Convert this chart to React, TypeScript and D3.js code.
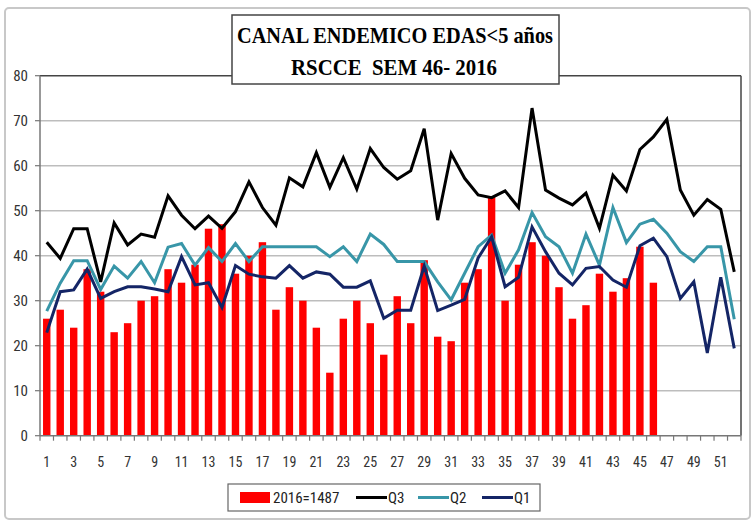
import React from 'react';
import * as d3 from 'd3';

// weeks 1..52
const weeks: number[] = d3.range(1, 53);

// casos 2016 (hasta SEM 46)
const cases2016: number[] = [
  26, 28, 24, 37, 32, 23, 25, 30, 31, 37,
  34, 38, 46, 47, 36, 40, 43, 28, 33, 30,
  24, 14, 26, 30, 25, 18, 31, 25, 39, 22,
  21, 34, 37, 53, 30, 38, 43, 40, 33, 26,
  29, 36, 32, 35, 42, 34,
];

const q3: number[] = [
  43, 39.4, 46, 46, 34.2, 47.3, 42.4, 44.8, 44.1, 53.3,
  49, 46, 48.8, 46.1, 49.8, 56.4, 50.7, 46.8, 57.3, 55.3,
  62.9, 55.2, 61.8, 54.8, 63.8, 59.6, 57, 58.9, 68.2, 47.9,
  62.7, 57.2, 53.5, 52.9, 54.4, 50.7, 72.8, 54.6, 52.8, 51.3,
  53.9, 46.1, 57.9, 54.4, 63.6, 66.4, 70.3, 54.6, 49, 52.5,
  50.3, 36.4,
];

const q2: number[] = [
  27.7, 33.9, 38.9, 38.9, 32.5, 37.7, 35, 38.7, 34, 41.9,
  42.7, 37.9, 41.8, 38.7, 42.7, 38.7, 42, 42, 42, 42,
  42, 39.8, 42, 38.7, 44.8, 42.5, 38.7, 38.7, 38.7, 34.2,
  30.2, 36.1, 42, 44.6, 36.1, 41.3, 49.6, 44.2, 42, 36.1,
  44.8, 37.9, 50.7, 42.9, 47, 48.1, 45, 40.9, 38.7, 42,
  42, 25.9,
];

const q1: number[] = [
  22.9, 32, 32.4, 37, 30.5, 32, 33.1, 33.1, 32.6, 32,
  39.8, 33.5, 34, 28.5, 37.8, 35.9, 35.3, 35, 37.8, 35,
  36.4, 35.9, 33, 33, 34.4, 26.1, 27.9, 27.9, 37.7, 27.8,
  29, 30.3, 39.5, 44.2, 33.1, 35.2, 46.4, 40.9, 36.1, 33.5,
  37.2, 37.6, 34.6, 33, 42.2, 43.9, 39.8, 30.5, 34.2, 18.4,
  35.2, 19.4,
];

const yTicks: number[] = [0, 10, 20, 30, 40, 50, 60, 70, 80];

const W = 754;
const H = 524;
const left = 40;
const right = 741;
const top = 75.7;
const bottom = 435.7;

const axisFont = '"Liberation Sans Narrow", "Roboto Condensed", Arial, sans-serif';

const App = () => {
  const x = d3.scaleBand<number>().domain(weeks).range([left, right]).paddingInner(0.45).paddingOuter(0.225);
  const xLine = (w: number) => (x(w) as number) + x.bandwidth() / 2;
  const y = d3.scaleLinear().domain([0, 80]).range([bottom, top]);
  const step = (right - left) / weeks.length;

  const line = d3.line<number>()
    .x((_, i) => xLine(weeks[i]))
    .y(d => y(d));

  const series = [
    { name: 'Q3', data: q3, color: '#000000' },
    { name: 'Q2', data: q2, color: '#3896A8' },
    { name: 'Q1', data: q1, color: '#142566' },
  ];

  return (
    <svg width={W} height={H} style={{ position: 'absolute', left: 0, top: 0, background: '#fff' }}>
      <rect x={5} y={8} width={745} height={511} rx={4} fill="#fff" stroke="#c8c8c8" strokeWidth={2} />

      {/* grid */}
      {yTicks.filter(t => t > 0 && t < 80).map(t => (
        <line key={t} x1={left} x2={right} y1={y(t)} y2={y(t)} stroke="#bdbdbd" strokeWidth={1.5} />
      ))}

      {/* bars */}
      {cases2016.map((v, i) => (
        <rect key={i} x={x(weeks[i])} y={y(v)} width={x.bandwidth()} height={bottom - y(v)} fill="#ff0000" />
      ))}

      {/* lines */}
      {series.map(s => (
        <path key={s.name} d={line(s.data) || ''} fill="none" stroke={s.color} strokeWidth={3} strokeLinejoin="miter" />
      ))}

      {/* plot frame */}
      <line x1={left} x2={right} y1={top} y2={top} stroke="#444" strokeWidth={1.5} />
      <line x1={right} x2={right} y1={top} y2={bottom} stroke="#444" strokeWidth={1.5} />
      <line x1={left} x2={left} y1={top} y2={bottom} stroke="#777" strokeWidth={1.5} />
      <line x1={left} x2={right} y1={bottom} y2={bottom} stroke="#777" strokeWidth={1.5} />

      {/* y axis */}
      {yTicks.map(t => (
        <g key={t}>
          <line x1={left - 5} x2={left} y1={y(t)} y2={y(t)} stroke="#777" strokeWidth={1.2} />
          <text x={28} y={y(t) + 5} textAnchor="end" fontFamily={axisFont} fontSize={15} fill="#333">{t}</text>
        </g>
      ))}

      {/* x axis */}
      {d3.range(weeks.length + 1).map(i => (
        <line key={i} x1={left + i * step} x2={left + i * step} y1={bottom} y2={bottom + 5} stroke="#777" strokeWidth={1.2} />
      ))}
      {weeks.filter(w => w % 2 === 1).map(w => (
        <text key={w} x={xLine(w)} y={467} textAnchor="middle" fontFamily={axisFont} fontSize={14} fill="#333">{w}</text>
      ))}

      {/* title */}
      <rect x={232} y={15} width={327} height={69} fill="#fff" stroke="#444" strokeWidth={1.5} />
      <text x={395} y={43} textAnchor="middle" fontFamily='"Liberation Serif", serif' fontWeight="bold" fontSize={24}
        textLength={316} lengthAdjust="spacingAndGlyphs">CANAL ENDEMICO EDAS&lt;5 años</text>
      <text x={394} y={75} textAnchor="middle" fontFamily='"Liberation Serif", serif' fontWeight="bold" fontSize={24}
        textLength={206} lengthAdjust="spacingAndGlyphs" style={{ whiteSpace: 'pre' }}>RSCCE  SEM 46- 2016</text>

      {/* legend */}
      <rect x={228} y={484} width={312} height={27} fill="#fff" stroke="#666" strokeWidth={1.2} />
      <rect x={240} y={492} width={30} height={11} fill="#ff0000" />
      <text x={273} y={503} fontFamily={axisFont} fontSize={15} fill="#222">2016=1487</text>
      {[
        { s: series[0], x0: 356 },
        { s: series[1], x0: 418 },
        { s: series[2], x0: 482 },
      ].map(({ s, x0 }) => (
        <g key={s.name}>
          <line x1={x0} x2={x0 + 31} y1={497.5} y2={497.5} stroke={s.color} strokeWidth={3} />
          <text x={x0 + 32} y={503} fontFamily={axisFont} fontSize={15} fill="#222">{s.name}</text>
        </g>
      ))}
    </svg>
  );
};

export default App;
